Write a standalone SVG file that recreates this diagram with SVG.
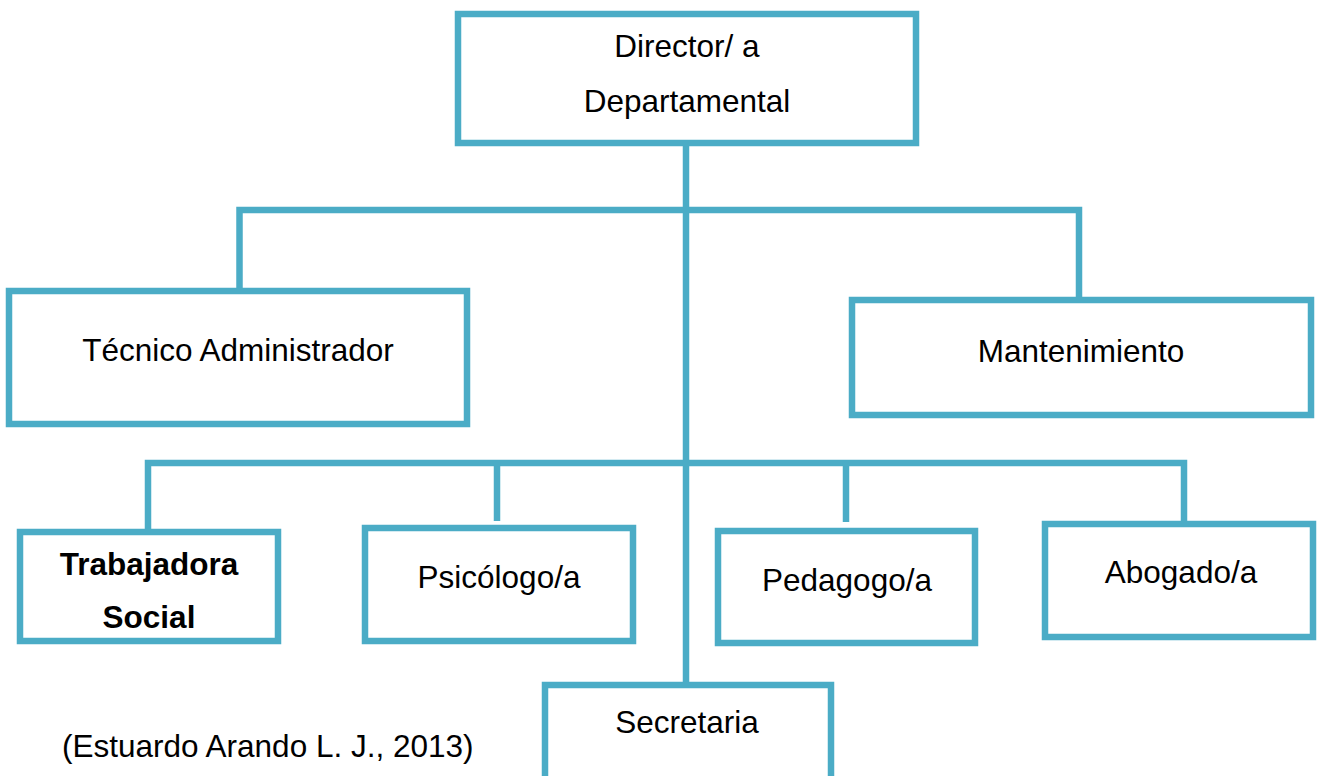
<svg xmlns="http://www.w3.org/2000/svg" width="1320" height="776" viewBox="0 0 1320 776">
<style>
.box{fill:#fff;stroke:#4BACC6;stroke-width:6.5}
.con{fill:none;stroke:#4BACC6;stroke-width:6.5}
.t{font-family:"Liberation Sans",Arial,sans-serif;font-size:31.5px;fill:#000;text-anchor:middle}
.b{font-weight:bold}
.c{font-family:"Liberation Sans",Arial,sans-serif;font-size:31.5px;fill:#000}
</style>
<rect width="1320" height="776" fill="#fff"/>
<g id="connectors">
<line class="con" x1="686" y1="146" x2="686" y2="684"/>
<path class="con" d="M239.5 296 V210 H1079 V298"/>
<path class="con" d="M148 529 V463 H1184 V522"/>
<line class="con" x1="497" y1="463" x2="497" y2="521"/>
<line class="con" x1="846" y1="463" x2="846" y2="522"/>
</g>
<g id="director">
<rect class="box" x="458" y="14" width="458" height="129"/>
<text class="t" x="687" y="57">Director/ a</text>
<text class="t" x="687" y="112">Departamental</text>
</g>
<g id="tecnico">
<rect class="box" x="9" y="291" width="458" height="133"/>
<text class="t" x="238" y="361">Técnico Administrador</text>
</g>
<g id="mantenimiento">
<rect class="box" x="852" y="300" width="459" height="115"/>
<text class="t" x="1081" y="362">Mantenimiento</text>
</g>
<g id="trabajadora">
<rect class="box" x="20" y="532" width="258" height="109"/>
<text class="t b" x="149" y="575">Trabajadora</text>
<text class="t b" x="149" y="628">Social</text>
</g>
<g id="psicologo">
<rect class="box" x="365" y="528" width="268" height="113"/>
<text class="t" x="499" y="588">Psicólogo/a</text>
</g>
<g id="pedagogo">
<rect class="box" x="718" y="531" width="257" height="112"/>
<text class="t" x="847" y="591">Pedagogo/a</text>
</g>
<g id="abogado">
<rect class="box" x="1045" y="524" width="268" height="113"/>
<text class="t" x="1181" y="583">Abogado/a</text>
</g>
<g id="secretaria">
<rect class="box" x="545" y="685" width="286" height="120"/>
<text class="t" x="687" y="733">Secretaria</text>
</g>
<text class="c" x="62" y="757">(Estuardo Arando L. J., 2013)</text>
</svg>
